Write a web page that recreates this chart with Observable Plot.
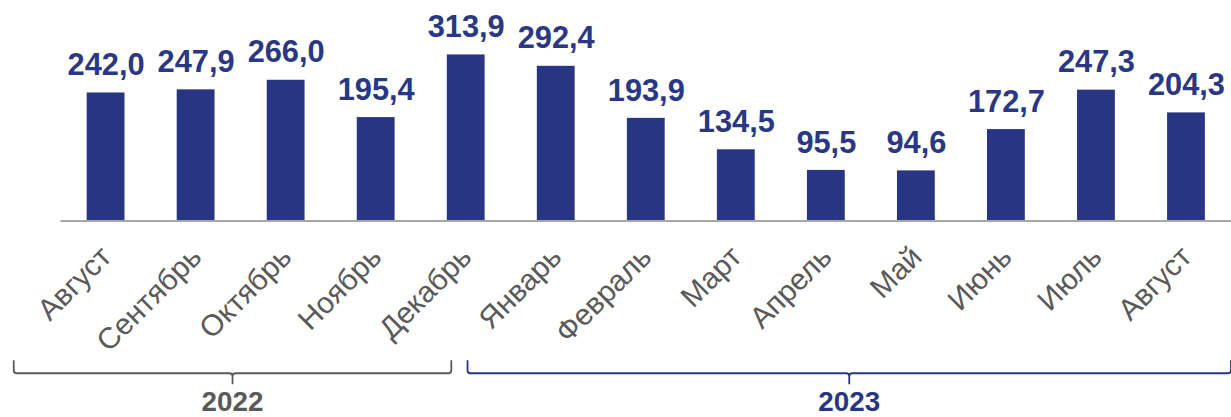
<!DOCTYPE html>
<html><head><meta charset="utf-8">
<script src="https://cdn.jsdelivr.net/npm/d3@7"></script>
<script src="https://cdn.jsdelivr.net/npm/@observablehq/plot@0.6"></script>
<style>
html,body{margin:0;padding:0;background:#fff;overflow:hidden;}
#chart{width:1231px;height:417px;overflow:hidden;}
#chart svg{display:block;}
</style></head><body><div id="chart"></div>
<script>
const months = ["Август","Сентябрь","Октябрь","Ноябрь","Декабрь","Январь","Февраль","Март","Апрель","Май","Июнь","Июль","Август"];
const years = ["2022","2022","2022","2022","2022","2023","2023","2023","2023","2023","2023","2023","2023"];
const values = [242.0,247.9,266.0,195.4,313.9,292.4,193.9,134.5,95.5,94.6,172.7,247.3,204.3];
const yearLabels = ["2022","2023"];
const yearColors = ["#595959","#283582"];
const bracketFrom = [-1.02, 4.02];   // in band-index units
const bracketTo = [3.84, 12.5];

const data = months.map((m,i)=>({key: years[i]+"-"+i, month:m, year: years[i], value: values[i]}));
const keys = data.map(d=>d.key);
const fmt = v => v.toFixed(1).replace(".", ",");
const font = "'Liberation Sans', Arial, sans-serif";

const plot = Plot.plot({
  width: 1240, height: 417,
  marginLeft: 61, marginRight: 0, marginTop: 9, marginBottom: 195,
  style: {fontFamily: font, background: "#fff", overflow: "visible"},
  x: {domain: keys, paddingInner: 0.58, paddingOuter: 0.29, round: false, axis: null},
  y: {domain: [0,400], axis: null},
  marks: [
    Plot.barY(data, {x:"key", y:"value", fill:"#283582"}),
    Plot.ruleY([0], {stroke:"#a6a6a6", strokeWidth: 2}),
    Plot.text(data, {x:"key", y:"value", text: d=>fmt(d.value), dy:-18, lineAnchor:"bottom", fill:"#2a3784", fontWeight:"bold", fontSize:31}),
    Plot.text(data, {x:"key", y: () => 0, text:"month", rotate:-45, textAnchor:"end", lineAnchor:"top", dx:-8, dy:23, fontSize:30, fill:"#595959"})
  ]
});
document.getElementById("chart").appendChild(plot);

// year brackets, positioned from the x scale
const xs = plot.scale("x");
const bw = xs.bandwidth;
const step = bw / (1 - 0.58);
const center = i => xs.apply(keys[0]) + bw/2 + i*step;
const svg = d3.select(plot);
const yTop = 363, yLine = 376, yNub = 387, r = 3;
yearLabels.forEach((yl, j) => {
  const x0 = center(bracketFrom[j]), x1 = center(bracketTo[j]);
  const xm = (x0 + x1)/2;
  const p = d3.path();
  p.moveTo(x0, yTop);
  p.lineTo(x0, yLine - r);
  p.quadraticCurveTo(x0, yLine, x0 + r, yLine);
  p.lineTo(xm - r, yLine);
  p.quadraticCurveTo(xm, yLine, xm, yLine + r);
  p.lineTo(xm, yNub);
  p.moveTo(xm, yLine + r);
  p.quadraticCurveTo(xm, yLine, xm + r, yLine);
  p.lineTo(x1 - r, yLine);
  p.quadraticCurveTo(x1, yLine, x1, yLine - r);
  p.lineTo(x1, yTop);
  svg.append("path").attr("d", p.toString()).attr("fill","none")
    .attr("stroke", yearColors[j]).attr("stroke-width", 1.8);
  svg.append("text").attr("x", xm).attr("y", 414).attr("text-anchor","middle")
    .attr("font-family", font).attr("font-weight","bold").attr("font-size", 28)
    .attr("fill", yearColors[j]).text(yl);
});
</script>
</body></html>
